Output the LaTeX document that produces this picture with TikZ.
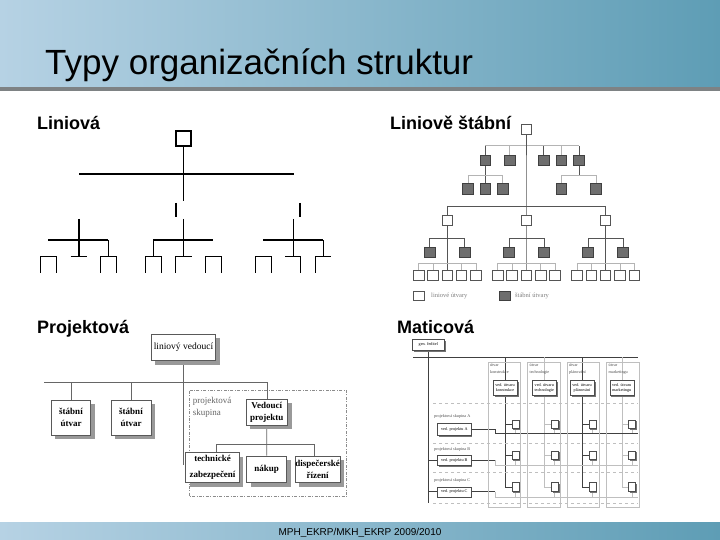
\documentclass[tikz,border=0pt]{standalone}
\usepackage{fontspec}
\setmainfont{Liberation Sans}
\newfontfamily\serifa{Liberation Serif}
\usetikzlibrary{shadows}
\pgfdeclarelayer{bg}
\pgfsetlayers{bg,main}
\definecolor{topL}{HTML}{B6D2E4}
\definecolor{topR}{HTML}{5E9DB5}
\definecolor{rulec}{HTML}{7E8284}
\definecolor{lsdark}{HTML}{6E6E6E}
\definecolor{lsedge}{HTML}{404040}
\definecolor{lsline}{HTML}{555555}
\definecolor{lslight}{HTML}{B4B4B4}
\begin{document}
\begin{tikzpicture}[x=1pt,y=-1pt,line join=miter,
  ln/.style={line width=1.3pt},
  lbox/.style={draw,line width=1.3pt,minimum width=15pt,minimum height=15pt,inner sep=0pt},
  lw/.style={draw=lsline,fill=white,minimum width=10.5pt,minimum height=10.5pt,inner sep=0pt,line width=0.6pt},
  ld/.style={draw=lsedge,fill=lsdark,minimum width=10.5pt,minimum height=10.5pt,inner sep=0pt,line width=0.6pt},
  dk/.style={draw=lsline,line width=0.6pt},
  lt/.style={draw=lslight,line width=0.6pt},
  head/.style={anchor=base west,font=\bfseries\fontsize{18}{20}\selectfont,inner sep=0pt},
  pb/.style={draw=black!65,fill=white,line width=0.5pt,inner sep=0.5pt,align=center,
    drop shadow={shadow xshift=4pt,shadow yshift=-4pt,fill=black!40,opacity=1}},
  pbt/.style={font=\serifa\bfseries\fontsize{9}{12}\selectfont},
  pl/.style={draw=black!60,line width=0.6pt},
  mb/.style={draw=black!70,fill=white,line width=0.4pt,inner sep=0pt,align=center,
    font=\serifa\fontsize{4.2}{5}\selectfont,
    drop shadow={shadow xshift=1.5pt,shadow yshift=-1.5pt,fill=black!55,opacity=1}},
  mt/.style={font=\serifa\fontsize{4.2}{6.5}\selectfont,text=black!70,inner sep=0pt,align=left},
  md/.style={draw=black!75,line width=0.5pt},
  ml/.style={draw=black!25,line width=0.4pt},
]
\useasboundingbox (0,0) rectangle (720,540);
\begin{pgfonlayer}{bg}
\fill[white] (0,0) rectangle (720,540);
\shade[left color=topL,right color=topR] (0,0) rectangle (720,88);
\fill[rulec] (0,87.5) rectangle (720,91.5);
\shade[left color=topL,right color=topR] (0,522) rectangle (720,540);
\end{pgfonlayer}

% title, headings, footer
\node[anchor=base west,inner sep=0pt,font=\fontsize{35}{40}\selectfont] (title) at (45,75) {Typy organizačních struktur};
\node[head] (h1) at (37,130) {Liniová};
\node[head] (h2) at (390,130) {Liniově štábní};
\node[head] (h3) at (37,333) {Projektová};
\node[head] (h4) at (397,333) {Maticová};
\node[anchor=base,inner sep=0pt,font=\fontsize{10}{12}\selectfont] (foot) at (360,535) {MPH\_EKRP/MKH\_EKRP 2009/2010};

% ---------------- Liniova ----------------
\node[lbox] (L0) at (183.5,138.5) {};
\coordinate (L0b) at (183.5,201);
\begin{scope}[ln]
\draw (L0) -- (L0b);
\draw (79,174) -- (294,174);
\draw (176,203) -- (176,217) (300,203) -- (300,217);
\draw (79,219) -- (79,256.7) (183.5,219) -- (183.5,256.7) (293.3,219) -- (293.3,256.7);
\draw (48.3,240) -- (108.3,240) (153.3,240) -- (213.3,240) (263.3,240) -- (323.3,240);
\draw (40.7,272.7) -- (40.7,256.7) -- (56.7,256.7) -- (56.7,272.7);
\draw (70.7,256.7) -- (86.7,256.7);
\draw (108.3,240) -- (108.3,256.7);
\draw (100.7,272.7) -- (100.7,256.7) -- (116.7,256.7) -- (116.7,272.7);
\draw (153.3,240) -- (153.3,256.7);
\draw (145.7,272.7) -- (145.7,256.7) -- (161.7,256.7) -- (161.7,272.7);
\draw (175.7,272.7) -- (175.7,256.7) -- (191.7,256.7);
\draw (205.7,272.7) -- (205.7,256.7) -- (221.7,256.7) -- (221.7,272.7);
\draw (255.7,272.7) -- (255.7,256.7) -- (271.7,256.7) -- (271.7,272.7);
\draw (285,256.7) -- (300.7,256.7) -- (300.7,272.7);
\draw (323.3,240) -- (323.3,256.7);
\draw (315.7,272.7) -- (315.7,256.7) -- (331,256.7);
\end{scope}

% ---------------- Liniove stabni ----------------
\node[lw] (S0) at (526.5,129.3) {};
\node[ld] (s1) at (485.3,160.3) {};
\node[ld] (s2) at (509.7,160.3) {};
\node[ld] (s3) at (543.7,160.3) {};
\node[ld] (s4) at (561.3,160.3) {};
\node[ld] (s5) at (579,160.3) {};
\node[ld] (t1) at (467.8,188.7) {};
\node[ld] (t2) at (485.3,188.7) {};
\node[ld] (t3) at (502.7,188.7) {};
\node[ld] (t4) at (561.3,188.7) {};
\node[ld] (t5) at (596,188.7) {};
\foreach \c [count=\i] in {447.2,526.3,605.5} {
  \node[lw] (M\i) at (\c,220.3) {};
  \node[ld] (D\i-a) at (\c-17.5,252.5) {};
  \node[ld] (D\i-b) at (\c+17.5,252.5) {};
  \foreach \k [count=\j] in {0,1,2,3,4} {
    \node[lw] (B\i-\j) at (\c-28.6+\k*14.3,275.3) {};
  }
}
\begin{pgfonlayer}{bg}
\draw[lt] (s1.center |- 0,145.7) -- (s5.center |- 0,145.7);
\draw[dk] (s1.center) -- (s1.center |- 0,145.7);
\draw[dk] (s3.center) -- (s3.center |- 0,145.7);
\draw[dk] (s5.center) -- (s5.center |- 0,145.7);
\draw[lt] (s2.center) -- (s2.center |- 0,145.7);
\draw[lt] (s4.center) -- (s4.center |- 0,145.7);
\draw[dk] (s1.center) -- (t2.center);
\draw[lt] (t1.center |- 0,175) -- (t3.center |- 0,175);
\draw[lt] (t1.center) -- (t1.center |- 0,175);
\draw[lt] (t3.center) -- (t3.center |- 0,175);
\draw[dk] (s5.center) -- (s5.center |- 0,175);
\draw[lt] (t4.center |- 0,175) -- (t5.center |- 0,175);
\draw[lt] (t4.center) -- (t4.center |- 0,175);
\draw[lt] (t5.center) -- (t5.center |- 0,175);
\draw[dk] (S0.center) -- (M2.center) -- (B2-3.center);
\draw[dk] (M1.center |- 0,206) -- (M3.center |- 0,206);
\draw[dk] (M1.center |- 0,206) -- (B1-3.center);
\draw[dk] (M3.center |- 0,206) -- (B3-3.center);
\foreach \i in {1,2,3} {
  \draw[dk] (D\i-a.center |- 0,238.3) -- (D\i-b.center |- 0,238.3);
  \draw[dk] (D\i-a.center) -- (D\i-a.center |- 0,238.3);
  \draw[dk] (D\i-b.center) -- (D\i-b.center |- 0,238.3);
  \draw[lt] (B\i-1.center |- 0,263.3) -- (B\i-5.center |- 0,263.3);
  \foreach \j in {1,2,4,5} {
    \draw[lt] (B\i-\j.center) -- (B\i-\j.center |- 0,263.3);
  }
}
\end{pgfonlayer}
\node[lw,minimum width=11pt,minimum height=8.5pt] (lg1) at (418.3,296) {};
\node[anchor=west,inner sep=0pt,font=\serifa\fontsize{6.5}{7}\selectfont,text=black!50] (lgt1) at (431,296) {liniové útvary};
\node[ld,minimum width=11pt,minimum height=8.5pt] (lg2) at (505,296) {};
\node[anchor=west,inner sep=0pt,font=\serifa\fontsize{6.5}{7}\selectfont,text=black!50] (lgt2) at (515,296) {štábní útvary};

% ---------------- Projektova ----------------
\draw[draw=black!45,line width=0.5pt,dash pattern=on 3pt off 1.5pt on 0.8pt off 1.5pt] (189.3,390.7) rectangle (346.7,496.7);
\node[anchor=north west,inner sep=0pt,align=left,font=\serifa\fontsize{9}{12}\selectfont,text=black!60] (psk) at (192.7,397) {projektová\\skupina};
\node[pb,minimum width=64.4pt,minimum height=26.7pt,font=\serifa\fontsize{9.5}{11}\selectfont] (LV) at (183.5,347.3) {liniový vedoucí};
\node[pb,pbt,minimum width=39.3pt,minimum height=35pt] (SU1) at (71,417.5) {štábní\\útvar};
\node[pb,pbt,minimum width=40pt,minimum height=35pt] (SU2) at (131,417.5) {štábní\\útvar};
\node[pb,pbt,minimum width=41.7pt,minimum height=25.7pt] (VP) at (266.8,412.2) {Vedoucí\\projektu};
\node[pb,pbt,minimum width=53.6pt,minimum height=30pt,font=\serifa\bfseries\fontsize{9}{16}\selectfont] (TZ) at (212.5,467.7) {technické\\zabezpečení};
\node[pb,pbt,minimum width=40pt,minimum height=26.7pt] (NK) at (266.7,469.3) {nákup};
\node[pb,pbt,minimum width=43.3pt,minimum height=26.7pt] (DR) at (317.7,469.3) {dispečerské\\řízení};
\coordinate (LVe) at (183.5,465);
\coordinate (hl) at (44,382);
\begin{pgfonlayer}{bg}
\draw[pl] (LV) -- (LVe);
\draw[pl] (hl) -- (VP.north |- hl) -- (VP.north);
\draw[pl] (SU1.north |- hl) -- (SU1.north);
\draw[pl] (SU2.north |- hl) -- (SU2.north);
\draw[pl] (VP.south) -- (NK.north);
\draw[pl] (216.7,444) -- (314,444);
\draw[pl] (216.7,444) -- (TZ.north -| 216.7,0);
\draw[pl] (314,444) -- (DR.north -| 314,0);
\end{pgfonlayer}

% ---------------- Maticova ----------------
\foreach \x in {487.7,527.2,566.7,606.2} {
  \draw[ml] (\x,362) rectangle (\x+32.5,507);
}
\foreach \y in {403.3,442.7,471.7,503.3} {
  \draw[ml,dashed] (433,\y) -- (638,\y);
}
\node[mb,minimum width=32pt,minimum height=10.7pt] (GR) at (428.3,344.7) {gen. ředitel};
\node[mt,anchor=north west] (c1) at (490,363.5) {útvar\\konstrukce};
\node[mt,anchor=north west] (c2) at (529.5,363.5) {útvar\\technologie};
\node[mt,anchor=north west] (c3) at (569,363.5) {útvar\\plánování};
\node[mt,anchor=north west] (c4) at (608.5,363.5) {útvar\\marketingu};
\node[mb,minimum width=24pt,minimum height=15pt] (U1) at (505,387.5) {ved. útvaru\\konstrukce};
\node[mb,minimum width=24pt,minimum height=15pt] (U2) at (544.3,387.5) {ved. útvaru\\technologie};
\node[mb,minimum width=24pt,minimum height=15pt] (U3) at (582,387.5) {ved. útvaru\\plánování};
\node[mb,minimum width=24pt,minimum height=15pt] (U4) at (621.7,387.5) {ved. útvaru\\marketingu};
\node[mt,anchor=west] (ra) at (434,416) {projektová skupina A};
\node[mt,anchor=west] (rb) at (434,449.3) {projektová skupina B};
\node[mt,anchor=west] (rc) at (434,480.7) {projektová skupina C};
\node[mb,minimum width=33.3pt,minimum height=11.7pt] (PA) at (454.3,429.2) {ved. projektu A};
\node[mb,minimum width=33.3pt,minimum height=10pt] (PB) at (454.3,460) {ved. projektu B};
\node[mb,minimum width=33.3pt,minimum height=10pt] (PC) at (454.3,491.7) {ved. projektu C};
\foreach \v [count=\i] in {505,544.3,582,621.7} {
  \node[mb,minimum width=7pt,minimum height=8.5pt] (X\i-1) at (\v+10.3,424.2) {};
  \node[mb,minimum width=7pt,minimum height=8.5pt] (X\i-2) at (\v+10.3,455) {};
  \node[mb,minimum width=7pt,minimum height=8.5pt] (X\i-3) at (\v+10.3,486.8) {};
}
\coordinate (Mh1) at (413.3,357.3);
\coordinate (Mh2) at (638,357.3);
\coordinate (Mv) at (428.3,502.7);
\begin{pgfonlayer}{bg}
\draw[md] (Mh1) -- (Mh2);
\draw[md] (GR) -- (Mv);
\foreach \i/\st in {1/md,2/ml,3/md,4/ml} {
  \draw[\st] (U\i.center |- Mh1) -- (U\i.center |- X\i-3) -- (X\i-3.west);
  \draw[\st] (U\i.center |- X\i-1) -- (X\i-1.west);
  \draw[\st] (U\i.center |- X\i-2) -- (X\i-2.west);
  \draw[ml] (X\i-1.south) -- (X\i-1.south |- 0,433.3);
  \draw[ml] (X\i-2.south) -- (X\i-2.south |- 0,465);
  \draw[ml] (X\i-3.south) -- (X\i-3.south |- 0,497);
}
\draw[md] (PA.east) -- (495,429.2) -- (495,433.3) -- (638,433.3);
\draw[md] (Mv |- PB) -- (PB.west);
\draw[md] (PB.east) -- (495,460);
\draw[ml] (495,460) -- (495,465) -- (638,465);
\draw[md] (Mv |- PC) -- (PC.west);
\draw[md] (PC.east) -- (495,491.7);
\draw[ml] (495,491.7) -- (495,497) -- (638,497);
\end{pgfonlayer}
\end{tikzpicture}
\end{document}
